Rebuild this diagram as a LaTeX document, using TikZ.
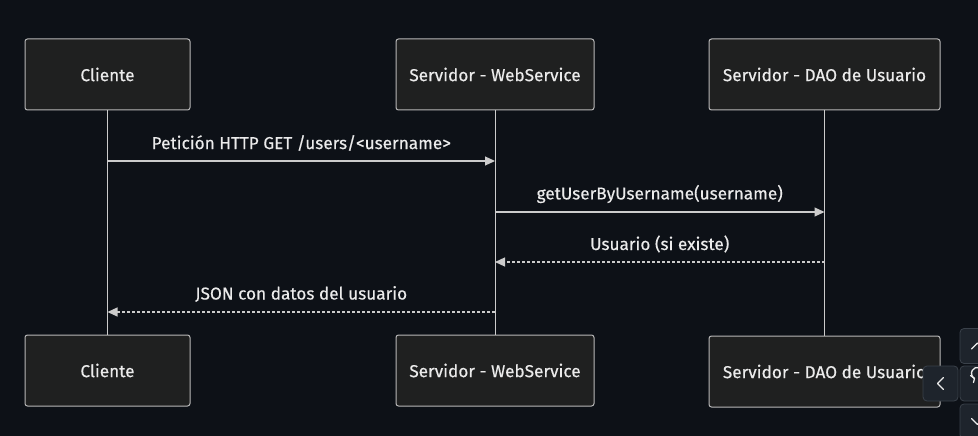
\documentclass[tikz,border=0pt]{standalone}
\usepackage{fontspec}
\setmainfont{Fira Sans}
\newfontfamily\diagfont{Fira Sans}[FakeBold=0.4]
\usetikzlibrary{arrows.meta,positioning}
\definecolor{fondo}{HTML}{0D1117}
\definecolor{caja}{HTML}{1F2020}
\definecolor{borde}{HTML}{B8B8B8}
\definecolor{linea}{HTML}{CCCCCC}
\definecolor{texto}{HTML}{EBEBEB}
\definecolor{boton}{HTML}{1E242C}
\definecolor{botonborde}{HTML}{3A414A}
\begin{document}
\begin{tikzpicture}[x=1pt,y=-1pt,
		actor/.style={draw=borde,fill=caja,rounded corners=2.5pt,line width=1pt,minimum height=71pt,text=texto,font=\diagfont\fontsize{17.2}{20}\selectfont},
		vida/.style={draw=linea,line width=1pt},
		msg/.style={draw=linea,line width=1.2pt,-{Triangle[length=10pt,width=9pt]}},
		resp/.style={msg,dash pattern=on 3pt off 2pt},
		etiqueta/.style={text=texto,font=\diagfont\fontsize{17.2}{20}\selectfont,yshift=18pt},
		ctrl/.style={draw=botonborde,fill=boton,rounded corners=4pt,line width=.8pt,minimum width=35pt,minimum height=35pt},
		flecha/.style={draw=texto,line width=1.3pt,line cap=round,line join=round}]
	\fill[fondo] (0,0) rectangle (978,436);
	\useasboundingbox (0,0) rectangle (978,436);
	
	% participantes
	\node[actor,minimum width=165pt] (cli) at (107.5,74.5) {Cliente};
	\node[actor,minimum width=198pt] (ws) at (495,74.5) {Servidor - WebService};
	\node[actor,minimum width=231pt] (dao) at (824.5,74.5) {Servidor - DAO de Usuario};
	
	\node[actor,minimum width=165pt] (cli2) at (107.5,370.5) {Cliente};
	\node[actor,minimum width=198pt] (ws2) at (495,370.5) {Servidor - WebService};
	
	% lineas de vida
	\draw[vida] (cli) -- (cli2);
	\draw[vida] (ws) -- (ws2);
	\draw[vida] (dao.south) -- ++(0,225) coordinate (daofin);
	
	\node[actor,minimum width=231pt,anchor=north] (dao2) at (daofin) {Servidor - DAO de Usuario};
	
	% mensajes
	\coordinate (y1) at (0,161);
	\coordinate (y2) at (0,212);
	\coordinate (y3) at (0,262);
	\coordinate (y4) at (0,312);
	\draw[msg] (cli |- y1) -- node[etiqueta] {Petición HTTP GET /users/<username>} (ws |- y1);
	\draw[msg] (ws |- y2) -- node[etiqueta] {getUserByUsername(username)} (dao |- y2);
	\draw[resp] (dao |- y3) -- node[etiqueta] {Usuario (si existe)} (ws |- y3);
	\draw[resp] (ws |- y4) -- node[etiqueta] {JSON con datos del usuario} (cli |- y4);
	
	% controles del visor
	\node[ctrl] (arriba) at (977.5,346) {};
	\node[ctrl] (izq) at (940.5,383.5) {};
	\node[ctrl] (reset) at (977.5,383.5) {};
	\node[ctrl] (abajo) at (977.5,421.5) {};
	\draw[flecha] ([shift={(-6,3)}]arriba.center) -- ++(6,-6) -- ++(6,6);
	\draw[flecha] ([shift={(3,-6)}]izq.center) -- ++(-6,6) -- ++(6,6);
	\draw[flecha] ([shift={(-6,-3)}]abajo.center) -- ++(6,6) -- ++(6,-6);
	\draw[flecha] ([shift={(-3,-5)}]reset.center) arc[start angle=120,end angle=290,radius=6];
	\draw[flecha] ([shift={(-7,-8)}]reset.center) -- ++(4,3) -- ++(-1,4);
\end{tikzpicture}
\end{document}
